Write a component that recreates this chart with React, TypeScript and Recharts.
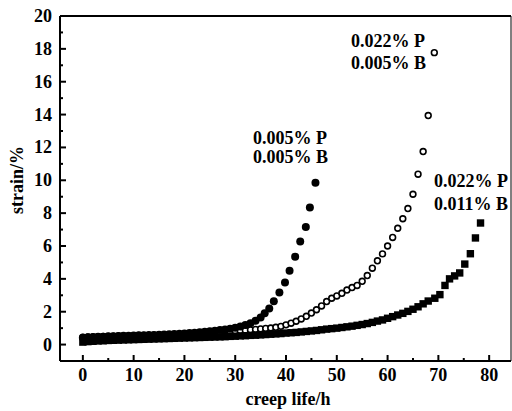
import React from 'react';
import { ScatterChart, Scatter, XAxis, YAxis, ReferenceLine } from 'recharts';

// 0.005% P / 0.005% B (filled circles)
const hoursA = [0, 1, 2, 3, 4, 5, 6, 7, 8, 9, 10, 11, 12, 13, 14, 15, 16, 17, 18, 19, 20, 21, 22, 23, 24, 25, 26, 27, 28, 29, 30, 31, 32, 33, 34, 35, 35.8, 36.7, 37.6, 38.7, 39.8, 40.7, 41.8, 42.8, 43.9, 44.7, 45.8];
const strainA = [0.42, 0.44, 0.46, 0.47, 0.48, 0.5, 0.51, 0.52, 0.53, 0.54, 0.55, 0.56, 0.57, 0.58, 0.59, 0.6, 0.61, 0.63, 0.64, 0.66, 0.68, 0.7, 0.72, 0.75, 0.78, 0.81, 0.84, 0.88, 0.92, 0.97, 1.03, 1.1, 1.19, 1.3, 1.45, 1.65, 1.9, 2.2, 2.63, 3.17, 3.78, 4.5, 5.35, 6.27, 7.15, 8.35, 9.85];

// 0.022% P / 0.005% B (open circles)
const hoursB = [0, 1, 2, 3, 4, 5, 6, 7, 8, 9, 10, 11, 12, 13, 14, 15, 16, 17, 18, 19, 20, 21, 22, 23, 24, 25, 26, 27, 28, 29, 30, 31, 32, 33, 34, 35, 36, 37, 38, 39, 40, 41, 42, 43, 44, 45, 46, 47, 48, 49, 50, 51, 52, 53, 54, 55, 56, 57, 58, 59, 60, 61, 62, 63, 64, 65, 66, 67, 68, 69.2];
const strainB = [0.45, 0.46, 0.47, 0.48, 0.49, 0.5, 0.51, 0.52, 0.52, 0.53, 0.54, 0.55, 0.56, 0.56, 0.57, 0.58, 0.59, 0.6, 0.61, 0.62, 0.63, 0.64, 0.65, 0.66, 0.68, 0.69, 0.71, 0.73, 0.75, 0.77, 0.8, 0.83, 0.86, 0.89, 0.92, 0.95, 0.98, 1.01, 1.05, 1.11, 1.2, 1.3, 1.42, 1.56, 1.72, 1.92, 2.12, 2.35, 2.62, 2.82, 2.96, 3.12, 3.32, 3.47, 3.6, 3.85, 4.2, 4.65, 5.1, 5.52, 6.0, 6.52, 7.08, 7.66, 8.28, 9.15, 10.37, 11.75, 13.94, 17.77];

// 0.022% P / 0.011% B (filled squares)
const hoursC = [0, 1, 2, 3, 4, 5, 6, 7, 8, 9, 10, 11, 12, 13, 14, 15, 16, 17, 18, 19, 20, 21, 22, 23, 24, 25, 26, 27, 28, 29, 30, 31, 32, 33, 34, 35, 36, 37, 38, 39, 40, 41, 42, 43, 44, 45, 46, 47, 48, 49, 50, 51, 52, 53, 54, 55, 56, 57, 58, 59, 60, 61, 62, 63, 64, 65, 66, 67, 68, 69.3, 70.3, 71.3, 72.2, 73.2, 74.2, 75.2, 76.3, 77.3, 78.3];
const strainC = [0.15, 0.18, 0.2, 0.22, 0.23, 0.25, 0.26, 0.27, 0.28, 0.29, 0.3, 0.31, 0.32, 0.33, 0.34, 0.35, 0.36, 0.37, 0.38, 0.39, 0.4, 0.41, 0.42, 0.43, 0.44, 0.45, 0.46, 0.47, 0.48, 0.5, 0.51, 0.53, 0.54, 0.56, 0.57, 0.59, 0.61, 0.63, 0.65, 0.67, 0.7, 0.72, 0.74, 0.77, 0.8, 0.83, 0.86, 0.9, 0.94, 0.97, 1.0, 1.04, 1.08, 1.12, 1.17, 1.22, 1.28, 1.35, 1.43, 1.5, 1.6, 1.7, 1.8, 1.9, 2.02, 2.15, 2.3, 2.48, 2.65, 2.82, 3.04, 3.6, 4.0, 4.18, 4.36, 4.9, 5.53, 6.49, 7.4];

const xTicks = [0, 5, 10, 15, 20, 25, 30, 35, 40, 45, 50, 55, 60, 65, 70, 75, 80];
const yTicks = [0, 1, 2, 3, 4, 5, 6, 7, 8, 9, 10, 11, 12, 13, 14, 15, 16, 17, 18, 19, 20];

const toPoints = (xs: number[], ys: number[]) => xs.map((x, i) => ({ x, y: ys[i] }));

const font = { fontFamily: '"Liberation Serif", "Times New Roman", serif', fontWeight: 700, fontSize: 18 };

const XTick = (props: any) => {
  const { x, y, payload } = props;
  const major = payload.value % 10 === 0;
  return (
    <g>
      <line x1={x} x2={x} y1={y} y2={y - (major ? 6 : 3)} stroke="#000" strokeWidth={2} />
      {major && (
        <text x={x} y={y + 20} textAnchor="middle" fill="#000" style={font}>{payload.value}</text>
      )}
    </g>
  );
};

const YTick = (props: any) => {
  const { x, y, payload } = props;
  const major = payload.value % 2 === 0;
  return (
    <g>
      <line x1={x} x2={x + (major ? 6 : 3)} y1={y} y2={y} stroke="#000" strokeWidth={2} />
      {major && (
        <text x={x - 8} y={y + 6} textAnchor="end" fill="#000" style={font}>{payload.value}</text>
      )}
    </g>
  );
};

const dot = (p: any) => <circle cx={p.cx} cy={p.cy} r={4} fill="#000" />;
const ring = (p: any) => <circle cx={p.cx} cy={p.cy} r={2.9} fill="#fff" stroke="#000" strokeWidth={1.6} />;
const square = (p: any) => <rect x={p.cx - 3.7} y={p.cy - 3.7} width={7.4} height={7.4} fill="#000" />;

export default function App() {
  return (
    <div style={{ position: 'absolute', left: 0, top: 0, width: 512, height: 411, background: '#fff' }}>
      <ScatterChart width={512} height={411} margin={{ top: 16, right: 1, left: 0, bottom: 0 }}>
        <XAxis
          type="number"
          dataKey="x"
          domain={[-4.5, 84.3]}
          allowDataOverflow
          ticks={xTicks}
          interval={0}
          height={50}
          tickSize={0}
          tickMargin={0}
          tickLine={false}
          tick={XTick}
          axisLine={{ stroke: '#000', strokeWidth: 2 }}
        />
        <YAxis
          type="number"
          dataKey="y"
          domain={[-1, 20]}
          allowDataOverflow
          ticks={yTicks}
          interval={0}
          width={60}
          tickSize={0}
          tickMargin={0}
          tickLine={false}
          tick={YTick}
          axisLine={{ stroke: '#000', strokeWidth: 2 }}
        />
        <ReferenceLine y={20} stroke="#000" strokeWidth={2} />
        <ReferenceLine x={84.3} stroke="#000" strokeWidth={1} />
        <Scatter data={toPoints(hoursB, strainB)} shape={ring} isAnimationActive={false} />
        <Scatter data={toPoints(hoursC, strainC)} shape={square} isAnimationActive={false} />
        <Scatter data={toPoints(hoursA, strainA)} shape={dot} isAnimationActive={false} />
      </ScatterChart>
      <svg width={512} height={411} style={{ position: 'absolute', left: 0, top: 0, pointerEvents: 'none' }}>
        <g fill="#000" style={font}>
          <text x={23} y={180} textAnchor="middle" transform="rotate(-90 23 180)">strain/%</text>
          <text x={288} y={405} textAnchor="middle">creep life/h</text>
          <text x={253} y={144}>0.005% P</text>
          <text x={253} y={163}>0.005% B</text>
          <text x={351} y={47}>0.022% P</text>
          <text x={351} y={69}>0.005% B</text>
          <text x={434} y={187}>0.022% P</text>
          <text x={434} y={210}>0.011% B</text>
        </g>
      </svg>
    </div>
  );
}
